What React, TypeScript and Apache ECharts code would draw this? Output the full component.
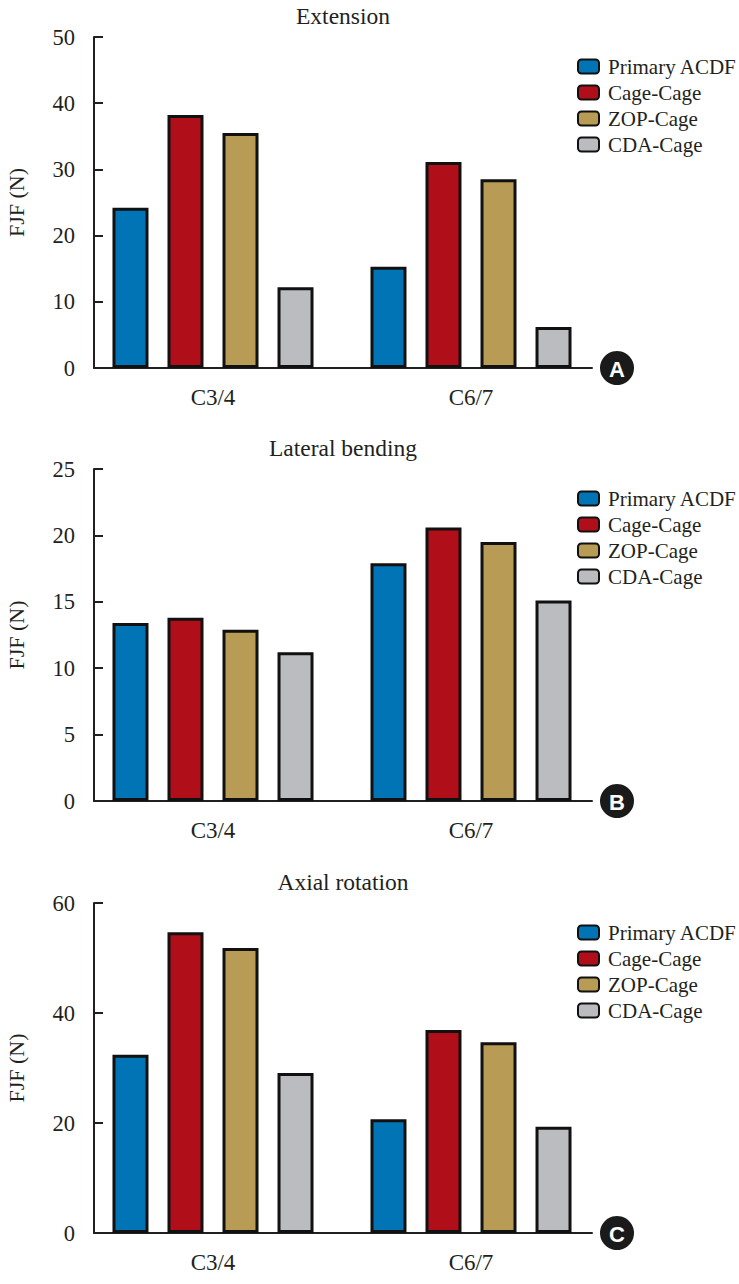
import React, { useEffect, useRef } from "react";
import * as echarts from "echarts";

const categories = ["C3/4", "C6/7"];
const seriesNames = ["Primary ACDF", "Cage-Cage", "ZOP-Cage", "CDA-Cage"];
const seriesColors = ["#0074B4", "#B00E18", "#B89B55", "#BBBCC0"];

const panelTitles = ["Extension", "Lateral bending", "Axial rotation"];
const panelLetters = ["A", "B", "C"];

const extensionPrimary = [24.2, 15.3];
const extensionCage = [38.2, 31.1];
const extensionZop = [35.5, 28.5];
const extensionCda = [12.2, 6.2];

const lateralPrimary = [13.4, 17.9];
const lateralCage = [13.8, 20.6];
const lateralZop = [12.9, 19.5];
const lateralCda = [11.2, 15.1];

const axialPrimary = [32.4, 20.7];
const axialCage = [54.7, 36.9];
const axialZop = [51.8, 34.7];
const axialCda = [29.1, 19.3];

const panelData = [
  [extensionPrimary, extensionCage, extensionZop, extensionCda],
  [lateralPrimary, lateralCage, lateralZop, lateralCda],
  [axialPrimary, axialCage, axialZop, axialCda],
];
const yMax = [50, 25, 60];
const yInterval = [10, 5, 20];

const FONT = "Times New Roman, Liberation Serif, serif";
const INK = "#231F20";

const panelTop = [37, 469, 903];
const panelHeight = [331, 332, 330];

export default function App() {
  const ref = useRef<HTMLDivElement>(null);
  useEffect(() => {
    if (!ref.current) return;
    const chart = echarts.init(ref.current, null, { renderer: "svg" });
    const grid: any[] = [];
    const xAxis: any[] = [];
    const yAxis: any[] = [];
    const series: any[] = [];
    const legend: any[] = [];
    const graphic: any[] = [];

    for (let p = 0; p < 3; p++) {
      grid.push({
        left: 94,
        width: 498,
        top: panelTop[p],
        height: panelHeight[p],
        containLabel: false,
        outerBoundsMode: "none",
      });
      xAxis.push({
        type: "value",
        gridIndex: p,
        min: 0,
        max: 1,
        axisLine: { show: true, lineStyle: { color: INK, width: 2 } },
        axisTick: { show: false },
        axisLabel: { show: false },
        splitLine: { show: false },
      });
      yAxis.push({
        type: "value",
        gridIndex: p,
        min: 0,
        max: yMax[p],
        interval: yInterval[p],
        name: "FJF (N)",
        nameLocation: "middle",
        nameGap: 67,
        nameTextStyle: { fontFamily: FONT, fontSize: 22, color: INK },
        axisLine: { show: true, lineStyle: { color: INK, width: 2 } },
        axisTick: { show: true, inside: true, length: 9, lineStyle: { color: INK, width: 2 } },
        axisLabel: { fontFamily: FONT, fontSize: 22.5, color: INK, margin: 19 },
        splitLine: { show: false },
      });
    }
    for (let p = 0; p < 3; p++) {
      grid.push({
        left: 84,
        width: 516,
        top: panelTop[p],
        height: panelHeight[p],
        containLabel: false,
        outerBoundsMode: "none",
      });
      xAxis.push({
        type: "category",
        gridIndex: 3 + p,
        data: categories,
        axisLine: { show: false },
        axisTick: { show: false },
        axisLabel: { fontFamily: FONT, fontSize: 23, color: INK, margin: 18 },
      });
      yAxis.push({
        type: "value",
        gridIndex: 3 + p,
        min: 0,
        max: yMax[p],
        show: false,
        splitLine: { show: false },
      });
      for (let s = 0; s < 4; s++) {
        series.push({
          type: "bar",
          name: seriesNames[s],
          xAxisIndex: 3 + p,
          yAxisIndex: 3 + p,
          data: panelData[p][s],
          barWidth: 36,
          barGap: "52.8%",
          itemStyle: { color: seriesColors[s], borderColor: "#111111", borderWidth: 3 },
          emphasis: { disabled: true },
        });
      }
      legend.push({
        data: seriesNames,
        orient: "vertical",
        left: 577,
        top: panelTop[p] + 19,
        padding: 0,
        itemWidth: 21,
        itemHeight: 14,
        itemGap: 5,
        selectedMode: false,
        itemStyle: { borderWidth: 2, borderColor: "#111111" },
        textStyle: { fontFamily: FONT, fontSize: 21, color: INK, lineHeight: 20, padding: [0, 0, 0, 4] },
      });
      graphic.push({
        type: "text",
        x: 343,
        y: panelTop[p] - 21,
        style: {
          text: panelTitles[p],
          fontFamily: FONT,
          fontSize: 23.5,
          fill: INK,
          textAlign: "center",
          textVerticalAlign: "middle",
        },
      });
      const cy = panelTop[p] + panelHeight[p];
      graphic.push({
        type: "circle",
        shape: { cx: 617, cy, r: 17 },
        style: { fill: "#1A1A1A" },
      });
      graphic.push({
        type: "text",
        x: 617,
        y: cy + 1,
        style: {
          text: panelLetters[p],
          fontFamily: "Liberation Sans, Arial, sans-serif",
          fontWeight: "bold",
          fontSize: 22,
          fill: "#FFFFFF",
          textAlign: "center",
          textVerticalAlign: "middle",
        },
      });
    }

    chart.setOption({
      animation: false,
      backgroundColor: "#FFFFFF",
      grid,
      xAxis,
      yAxis,
      series,
      legend,
      graphic,
    });
    return () => chart.dispose();
  }, []);
  return (
    <div
      ref={ref}
      style={{ position: "absolute", left: 0, top: 0, width: 739, height: 1284 }}
    />
  );
}
